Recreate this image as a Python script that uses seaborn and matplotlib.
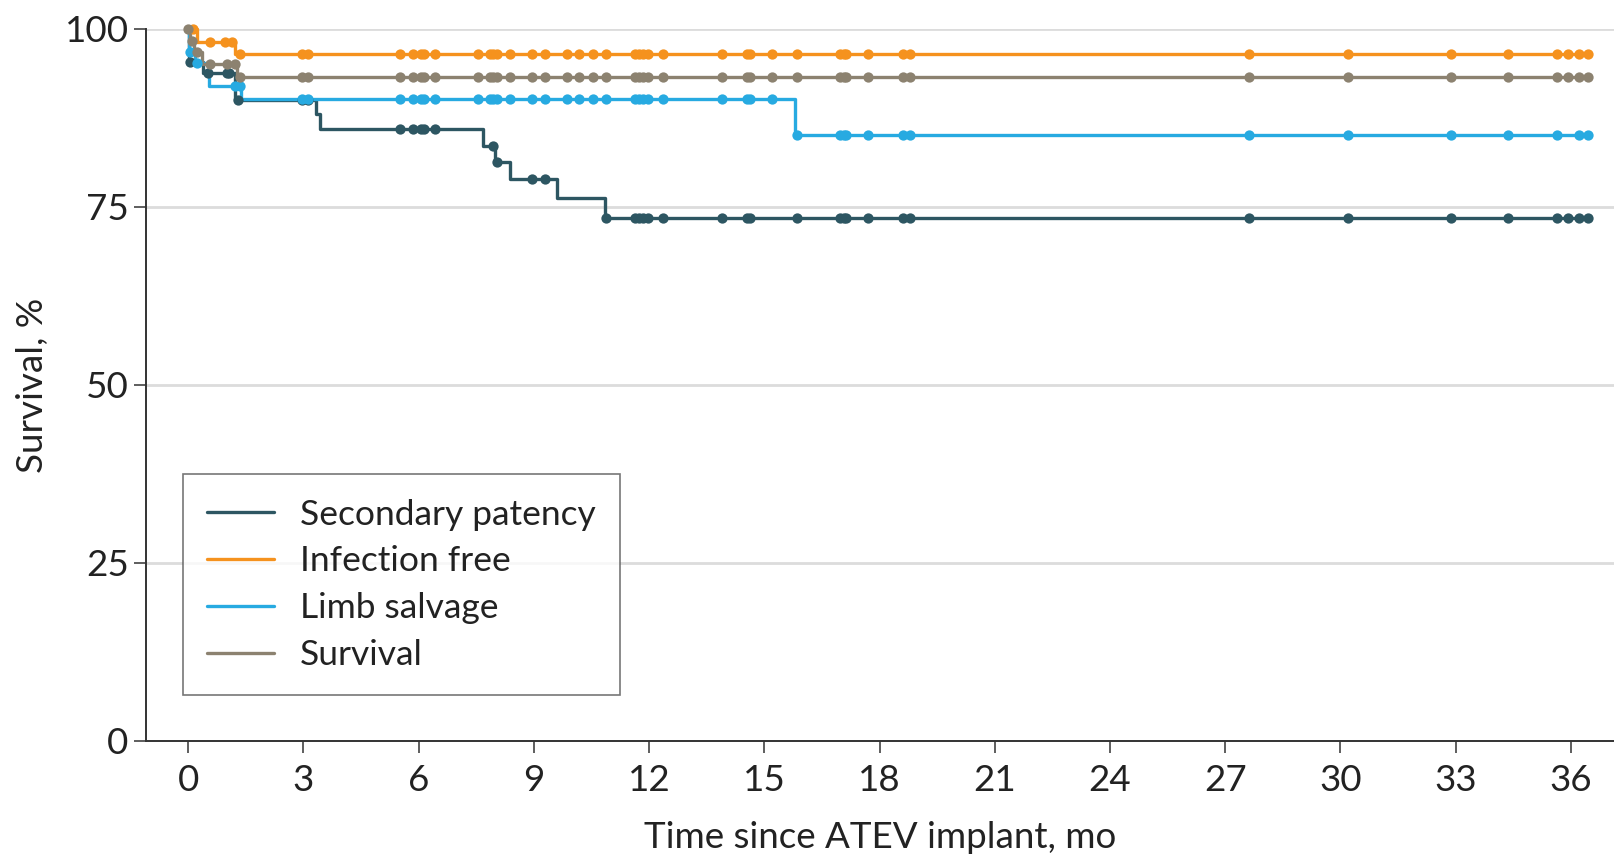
import numpy as np
import pandas as pd
import matplotlib
matplotlib.use("Agg")
import matplotlib.pyplot as plt
import seaborn as sns

# ---------------- data ----------------
series_names = ["Secondary patency", "Infection free", "Limb salvage", "Survival"]
series_colors = ["#2d5662", "#f5921e", "#27aae1", "#8c8270"]

# step (event) times in months and the survival level (%) after each step
patency_times = [0, 0.02, 0.39, 1.21, 3.32, 3.42, 7.68, 8.0, 8.38, 9.59, 10.85]
patency_levels = [100, 95.4, 93.75, 90.0, 88.0, 85.9, 83.5, 81.3, 78.9, 76.2, 73.4]
patency_censor = [0.04, 0.52, 1.0, 1.06, 1.3, 2.95, 3.12, 5.51, 5.86, 6.05, 6.15, 6.42,
                  7.94, 8.03, 8.94, 9.29, 10.89, 11.62, 11.75, 11.85, 11.97, 12.35,
                  13.91, 14.54, 14.64, 15.86, 16.97, 17.08, 17.14, 17.71, 18.62, 18.79,
                  27.63, 30.19, 32.88, 34.36, 35.63, 35.93, 36.22, 36.46]

infection_times = [0, 0.22, 1.21]
infection_levels = [100, 98.2, 96.4]
infection_censor = [0.13, 0.56, 0.95, 1.13, 1.34, 2.95, 3.12, 5.51, 5.86, 6.05, 6.15, 6.42,
                    7.55, 7.85, 7.94, 8.03, 8.37, 8.94, 9.29, 9.87, 10.18, 10.54, 10.89,
                    11.62, 11.75, 11.85, 11.97, 12.35, 13.91, 14.54, 14.64, 15.19, 15.86,
                    16.97, 17.08, 17.14, 17.71, 18.62, 18.79, 27.63, 30.19, 32.88, 34.36,
                    35.63, 35.93, 36.22, 36.46]

limb_times = [0, 0.03, 0.18, 0.55, 1.38, 15.8]
limb_levels = [100, 96.8, 95.2, 91.9, 90.1, 85.1]
limb_censor = [0.04, 0.22, 1.21, 1.34, 2.95, 3.12, 5.51, 5.86, 6.05, 6.15, 6.42,
               7.55, 7.85, 7.94, 8.03, 8.37, 8.94, 9.29, 9.87, 10.18, 10.54, 10.89,
               11.62, 11.75, 11.85, 11.97, 12.35, 13.91, 14.54, 14.64, 15.19, 15.86,
               16.97, 17.08, 17.14, 17.71, 18.62, 18.79, 27.63, 30.19, 32.88, 34.36,
               35.63, 36.22, 36.46]

survival_times = [0, 0.05, 0.15, 0.35, 1.26]
survival_levels = [100, 98.3, 96.7, 95.1, 93.2]
survival_censor = [0.0, 0.09, 0.22, 0.56, 1.0, 1.21, 1.34, 2.95, 3.12, 5.51, 5.86, 6.05,
                   6.15, 6.42, 7.55, 7.85, 7.94, 8.03, 8.37, 8.94, 9.29, 9.87, 10.18,
                   10.54, 10.89, 11.62, 11.75, 11.85, 11.97, 12.35, 13.91, 14.54, 14.64,
                   15.19, 15.86, 16.97, 17.08, 17.14, 17.71, 18.62, 18.79, 27.63, 30.19,
                   32.88, 34.36, 35.63, 35.93, 36.22, 36.46]

x_ticks = [0, 3, 6, 9, 12, 15, 18, 21, 24, 27, 30, 33, 36]
y_ticks = [0, 25, 50, 75, 100]

all_series = [
    (patency_times, patency_levels, patency_censor),
    (infection_times, infection_levels, infection_censor),
    (limb_times, limb_levels, limb_censor),
    (survival_times, survival_levels, survival_censor),
]

# ---------------- style ----------------
sns.set_theme(style="white")
FONT = ["Lato", "DejaVu Sans"]
plt.rcParams["font.family"] = FONT
FS = 26.5
LFS = 25.5
TEXT = "#222222"

fig = plt.figure(figsize=(16.14, 8.58), dpi=100)
ax = fig.add_axes([146 / 1614, 1 - 741 / 858, 1 - 146 / 1614, (741 - 28.8) / 858])

for name, color, (t, lv, cens) in zip(series_names, series_colors, all_series):
    t = np.asarray(t, float)
    lv = np.asarray(lv, float)
    cens = np.asarray(cens, float)
    end = max(t.max(), cens.max())
    line_df = pd.DataFrame({"x": np.append(t, end), "y": np.append(lv, lv[-1])})
    sns.lineplot(data=line_df, x="x", y="y", ax=ax, color=color, lw=2.4,
                 drawstyle="steps-post", estimator=None, sort=False, label=name,
                 clip_on=False, zorder=3)
    idx = np.searchsorted(t, cens, side="right") - 1
    cdf = pd.DataFrame({"x": cens, "y": lv[idx]})
    sns.scatterplot(data=cdf, x="x", y="y", ax=ax, color=color, s=55,
                    linewidth=0, legend=False, clip_on=False, zorder=4)

ax.set_xlim(-1.1, 37.125)
ax.set_ylim(0, 100)
ax.set_xticks(x_ticks)
ax.set_yticks(y_ticks)
ax.set_xticklabels([str(v) for v in x_ticks])
ax.set_yticklabels([str(v) for v in y_ticks])

ax.grid(False)
for yv in y_ticks[1:]:
    ax.axhline(yv, color="#dcdcdc", lw=2, zorder=1)

for side in ["top", "right"]:
    ax.spines[side].set_visible(False)
for side in ["left", "bottom"]:
    ax.spines[side].set_color("#333333")
    ax.spines[side].set_linewidth(1.4)

ax.tick_params(axis="x", length=8.5, width=1.1, color="#333333", pad=8,
               labelsize=FS, labelcolor=TEXT, bottom=True)
ax.tick_params(axis="y", length=8.5, width=1.1, color="#333333", pad=4,
               labelsize=FS, labelcolor=TEXT, left=True)

ax.set_xlabel("Time since ATEV implant, mo", fontsize=FS, color=TEXT)
ax.set_ylabel("Survival, %", fontsize=FS, color=TEXT)
ax.xaxis.set_label_coords(0.5, (741 - 837) / (741 - 28.8))
ax.xaxis.label.set_va("center")
ax.yaxis.set_label_coords((32 - 146) / (1614 - 146), 0.5)
ax.yaxis.label.set_va("center")

handles, labels = ax.get_legend_handles_labels()
leg = ax.legend(handles, labels, loc="upper left",
                bbox_to_anchor=(183 / 1614, 1 - 474.5 / 858),
                bbox_transform=fig.transFigure, borderaxespad=0,
                fontsize=LFS, frameon=True, fancybox=False, handlelength=1.9,
                handletextpad=0.72, borderpad=0.68, labelspacing=0.42)
leg.get_frame().set_edgecolor("#555555")
leg.get_frame().set_linewidth(1.2)
for txt in leg.get_texts():
    txt.set_color(TEXT)
for h in leg.get_lines():
    h.set_linewidth(2.4)

fig.savefig("out.png", dpi=100)
